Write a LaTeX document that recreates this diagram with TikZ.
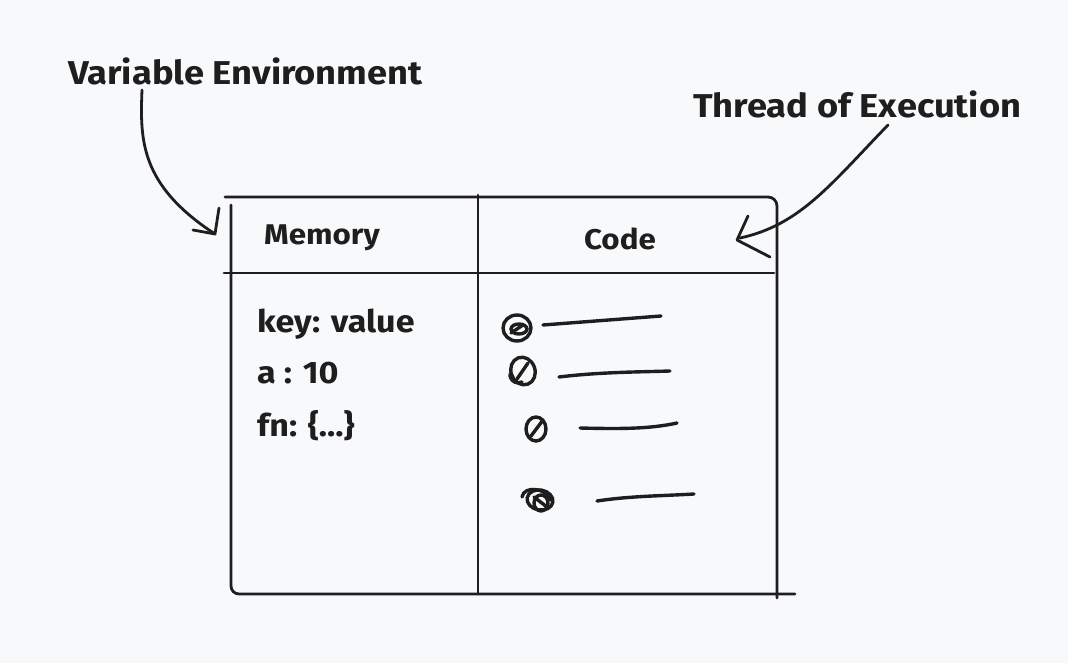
\documentclass[tikz,border=0pt]{standalone}
\usepackage{fontspec}
\setmainfont{Fira Sans}[FakeStretch=1.1]
\definecolor{bg}{HTML}{F8F9FB}
\definecolor{ink}{HTML}{1E1E1E}
\begin{document}
\begin{tikzpicture}[x=1pt,y=-1pt,
  ink line/.style={draw=ink,line width=2.8pt,line cap=round,line join=round},
  scrib/.style={draw=ink,line width=3.4pt,line cap=round},
  lbl/.style={text=ink,font=\bfseries\fontsize{33}{38}\selectfont,inner sep=0pt},
  hdr/.style={text=ink,font=\bfseries\fontsize{28.5}{32}\selectfont,inner sep=0pt},
  body/.style={text=ink,font=\bfseries\fontsize{31}{34}\selectfont,inner sep=0pt,anchor=base west}]
\fill[bg] (0,0) rectangle (1068,663);
\useasboundingbox (0,0) rectangle (1068,663);
% box
\draw[ink line,rounded corners=9pt] (225,197) -- (777,197) -- (777,598);
\draw[ink line,rounded corners=8pt] (231,205) -- (231,594) -- (795,594);
\draw[ink line] (478,195) -- (478,594);
\draw[ink line] (224,273) -- (774,273);
% labels
\node[lbl,anchor=base west] (ve) at (68,85) {Variable Environment};
\node[lbl,anchor=base west] (te) at (693,118) {Thread of Execution};
\node[hdr] (mem) at (322,238) {Memory};
\node[hdr] (code) at (620,239) {Code};
\node[body] (k) at (257,332) {key: value};
\node[body] (a) at (257,383) {a : 10};
\node[body] (f) at (257,436) {fn: \{...\}};
% arrows
\coordinate (vs) at (142,90);
\coordinate (vt) at (215,234);
\draw[ink line] (vs) .. controls (140,140) and (140,185) .. (vt);
\draw[ink line] (193,230) -- (vt) -- (219,208);
\coordinate (ts) at (888,125);
\coordinate (tt) at (740,238);
\draw[ink line] (ts) .. controls (830,185) and (800,225) .. (tt);
\draw[ink line] (748,216) -- (737,240) -- (770,257);
% scribbles
\draw[scrib] (517,328) ellipse[x radius=14,y radius=13];
\draw[scrib] (519,329) ellipse[x radius=8,y radius=5];
\draw[scrib] (511,333) -- (523,325);
\draw[scrib] (543,325) -- (661,316);
\draw[scrib] (523,371) ellipse[x radius=12,y radius=14,rotate=20];
\draw[scrib] (513,377) .. controls (507,368) and (510,387) .. (522,382);
\draw[scrib] (517,379) -- (528,363);
\draw[scrib] (559,377) .. controls (600,372) and (640,372) .. (670,371);
\draw[scrib] (536,429) ellipse[x radius=10,y radius=12];
\draw[scrib] (531,436) -- (543,420);
\draw[scrib] (580,428) .. controls (620,429) and (650,429) .. (677,423);
\draw[scrib] (540,500) ellipse[x radius=13,y radius=10,rotate=-10];
\draw[scrib] (522,497) .. controls (524,485) and (547,488) .. (550,500);
\draw[scrib] (541,503) ellipse[x radius=7,y radius=8];
\draw[scrib] (534,497) -- (547,507);
\draw[scrib] (597,501) .. controls (630,496) and (660,496) .. (694,494);
\end{tikzpicture}
\end{document}
